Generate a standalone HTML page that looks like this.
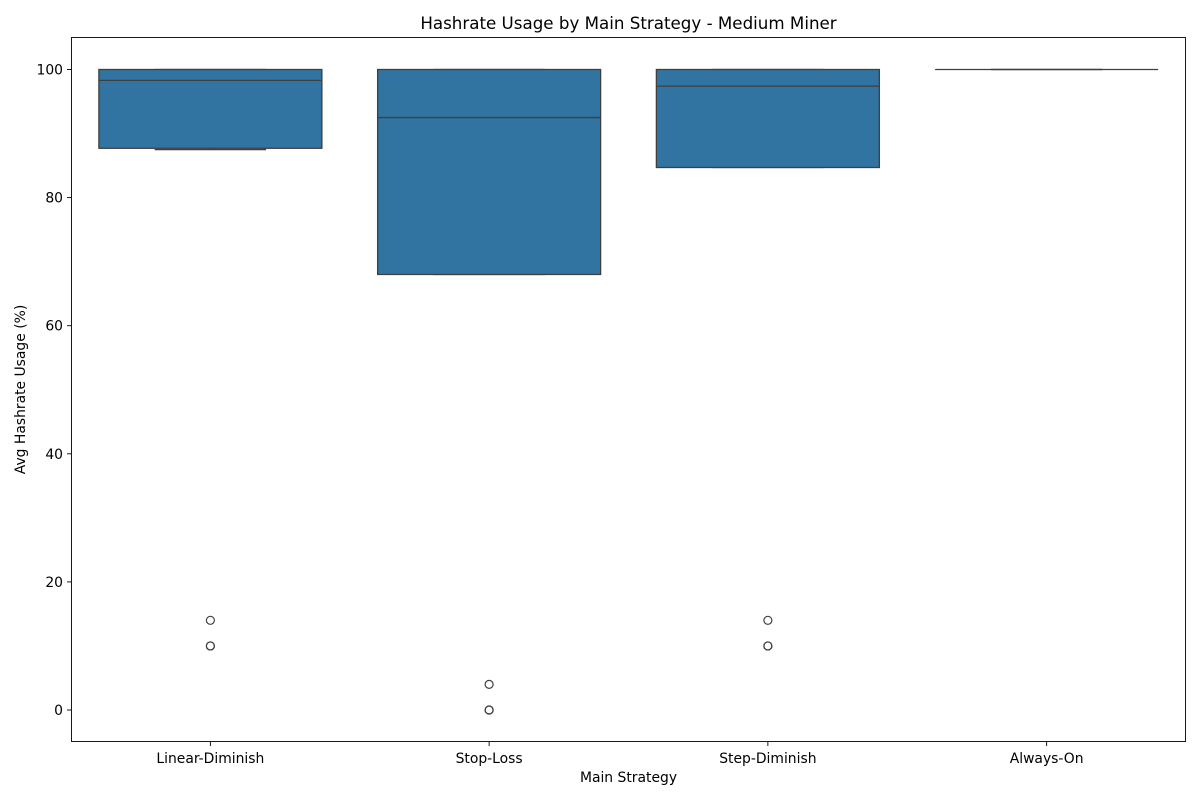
<!DOCTYPE html>
<html><head><meta charset="utf-8"><style>body{margin:0;background:#fff}svg{font-family:"DejaVu Sans","Liberation Sans",sans-serif}</style></head>
<body>
<svg id="chart" width="1200" height="800"></svg>
<script>
const categories = ["Linear-Diminish","Stop-Loss","Step-Diminish","Always-On"];
const whiskerLow = [87.5, 68.0, 84.7, 100];
const q1Values = [87.7, 68.0, 84.7, 100];
const medians = [98.3, 92.5, 97.4, 100];
const q3Values = [100, 100, 100, 100];
const whiskerHigh = [100, 100, 100, 100];
const outliers = [[14, 10, 10], [4, 0, 0], [14, 10, 10], []];
const yTicks = [0, 20, 40, 60, 80, 100];

const NS = "http://www.w3.org/2000/svg";
const svg = document.getElementById("chart");
const L = 71, R = 1186, T = 37, B = 742;
const y = v => 710 - v * 6.405;
const band = (R - L) / categories.length;
const x = i => L + band * (i + 0.5);
function el(tag, attrs, parent) {
  const e = document.createElementNS(NS, tag);
  for (const k in attrs) e.setAttribute(k, attrs[k]);
  (parent || svg).appendChild(e);
  return e;
}
function text(str, attrs) { const t = el("text", attrs); t.textContent = str; return t; }

const title = text("Hashrate Usage by Main Strategy - Medium Miner", {x: (L + R) / 2, y: 29, "text-anchor": "middle", "font-size": 16.7, fill: "#000"});



const marks = el("g", {});


categories.forEach((c, i) => {
  const cx = x(i), w = band * 0.8, cap = w / 2;
  const g = el("g", {}, marks);
  
  
  el("line", {x1: cx - cap / 2, x2: cx + cap / 2, y1: y(whiskerLow[i]), y2: y(whiskerLow[i]), stroke: "#3f3f3f", "stroke-width": 1.3}, g);
  el("line", {x1: cx - cap / 2, x2: cx + cap / 2, y1: y(whiskerHigh[i]), y2: y(whiskerHigh[i]), stroke: "#3f3f3f", "stroke-width": 1.3}, g);
  el("line", {x1: cx, x2: cx, y1: y(whiskerLow[i]), y2: y(q1Values[i]), stroke: "#3f3f3f", "stroke-width": 1.3}, g);
  el("line", {x1: cx, x2: cx, y1: y(q3Values[i]), y2: y(whiskerHigh[i]), stroke: "#3f3f3f", "stroke-width": 1.3}, g);
  el("rect", {x: cx - w / 2, y: y(q3Values[i]), width: w, height: Math.max(0, y(q1Values[i]) - y(q3Values[i])), fill: "#3274a1", stroke: "#3f3f3f", "stroke-width": 1.3}, g);
  el("line", {x1: cx - w / 2, x2: cx + w / 2, y1: y(medians[i]), y2: y(medians[i]), stroke: "#3f3f3f", "stroke-width": 1.3}, g);
  outliers[i].forEach(v => {
    const o = el("circle", {cx: cx, cy: y(v), r: 4, fill: "none", stroke: "#3f3f3f", "stroke-width": 1.2}, g);
    
    
  });
});

const frame = el("rect", {x: L + 0.5, y: T + 0.5, width: R - L - 1, height: B - T - 1, fill: "none", stroke: "#000", "stroke-width": 0.9});



yTicks.forEach(v => {
  el("line", {x1: L - 4, x2: L, y1: y(v), y2: y(v), stroke: "#000", "stroke-width": 0.9});
  const t = text(String(v), {x: L - 8, y: y(v) + 5, "text-anchor": "end", "font-size": 13.9});
  
  
});
categories.forEach((c, i) => {
  el("line", {x1: x(i), x2: x(i), y1: B, y2: B + 4, stroke: "#000", "stroke-width": 0.9});
  const t = text(c, {x: x(i), y: B + 21, "text-anchor": "middle", "font-size": 13.9});
  
  
});
const xt = text("Main Strategy", {x: (L + R) / 2, y: 782, "text-anchor": "middle", "font-size": 13.9});


const yt = text("Avg Hashrate Usage (%)", {x: 0, y: 0, transform: "translate(25," + ((T + B) / 2) + ") rotate(-90)", "text-anchor": "middle", "font-size": 13.9});


</script>
</body></html>
